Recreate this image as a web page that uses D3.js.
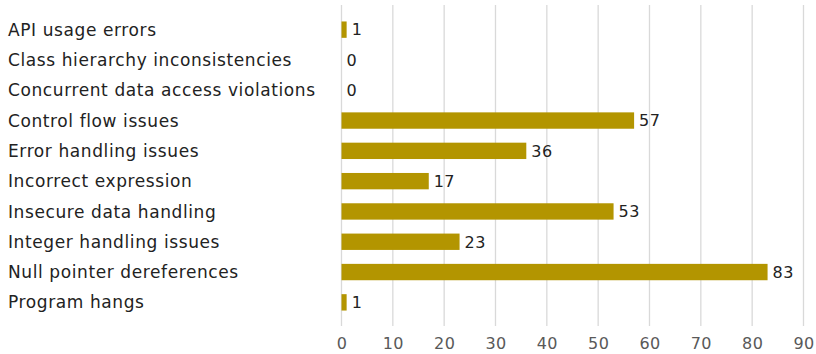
<!DOCTYPE html>
<html>
<head>
<meta charset="utf-8">
<script src="https://cdn.jsdelivr.net/npm/d3@7"></script>
<style>
  body { margin: 0; background: #fff; }
  svg text { font-family: Verdana, "DejaVu Sans", sans-serif; }
</style>
</head>
<body>
<div id="chart"></div>
<script>
// categories and counts, top to bottom
var categories = [
  "API usage errors",
  "Class hierarchy inconsistencies",
  "Concurrent data access violations",
  "Control flow issues",
  "Error handling issues",
  "Incorrect expression",
  "Insecure data handling",
  "Integer handling issues",
  "Null pointer dereferences",
  "Program hangs"
];
var counts = [1, 0, 0, 57, 36, 17, 53, 23, 83, 1];
var xTicks = [0, 10, 20, 30, 40, 50, 60, 70, 80, 90];

var W = 816, H = 354;
var plotLeft = 341.5, plotRight = 803.5, plotTop = 14.5, plotBottom = 317.5;

var svg = d3.select("#chart").append("svg")
  .attr("width", W)
  .attr("height", H);

var x = d3.scaleLinear()
  .domain([0, 90])
  .range([plotLeft, plotRight]);

var y = d3.scaleBand()
  .domain(categories)
  .range([plotTop, plotBottom])
  .paddingInner(0.46)
  .paddingOuter(0.23);

// vertical grid
svg.append("g")
  .selectAll("line")
  .data(xTicks)
  .enter()
  .append("line")
    .attr("x1", function(d) { return x(d); })
    .attr("x2", function(d) { return x(d); })
    .attr("y1", 5)
    .attr("y2", 326)
    .attr("stroke", "#d9d9d9")
    .attr("stroke-width", 1.3);

// bars
svg.append("g")
  .selectAll("rect")
  .data(counts)
  .enter()
  .append("rect")
    .attr("x", x(0))
    .attr("y", function(d, i) { return y(categories[i]); })
    .attr("width", function(d) { return x(d) - x(0); })
    .attr("height", y.bandwidth())
    .attr("fill", "#b39500");

// value labels
svg.append("g")
  .selectAll("text")
  .data(counts)
  .enter()
  .append("text")
    .attr("x", function(d) { return x(d) + 5; })
    .attr("y", function(d, i) { return y(categories[i]) + y.bandwidth() / 2; })
    .attr("dy", "0.36em")
    .style("font-size", "16px")
    .style("letter-spacing", "0.4px")
    .style("fill", "#222")
    .text(function(d) { return d; });

// category labels
svg.append("g")
  .selectAll("text")
  .data(categories)
  .enter()
  .append("text")
    .attr("x", 8)
    .attr("y", function(d) { return y(d) + y.bandwidth() / 2; })
    .attr("dy", "0.36em")
    .style("font-size", "17px")
    .style("letter-spacing", "0.6px")
    .style("fill", "#222")
    .text(function(d) { return d; });

// x axis
var xAxis = d3.axisBottom(x)
  .tickValues(xTicks)
  .tickSize(0)
  .tickPadding(0);

var gx = svg.append("g")
  .attr("transform", "translate(0,338)")
  .call(xAxis);
gx.select(".domain").remove();
gx.selectAll("text")
  .style("font-size", "16px")
  .style("letter-spacing", "0.4px")
  .style("font-family", "Verdana, 'DejaVu Sans', sans-serif")
  .style("fill", "#595959");
</script>
</body>
</html>
